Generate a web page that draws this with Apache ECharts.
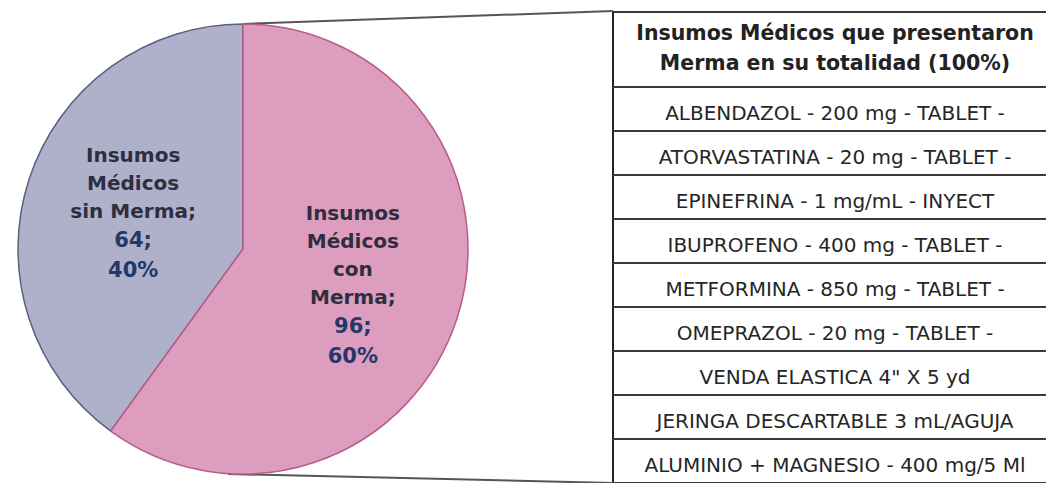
<!DOCTYPE html>
<html>
<head>
<meta charset="utf-8">
<script src="https://cdn.jsdelivr.net/npm/echarts@6/dist/echarts.min.js"></script>
<style>
  html, body { margin: 0; padding: 0; background: #fff; }
  #main { width: 1046px; height: 483px; }
</style>
</head>
<body>
<div id="main"></div>
<script>
const sliceNames = ['Insumos Médicos sin Merma', 'Insumos Médicos con Merma']
const sliceLabels = ['Insumos\nMédicos\nsin Merma;', 'Insumos\nMédicos\ncon\nMerma;']
const sliceValues = [64, 96]
const sliceColors = ['#afb1cb', '#dd9dbf']
const sliceBorders = ['#5e5e7e', '#b95c87']

const tableTitle = ['Insumos Médicos que presentaron', 'Merma en su totalidad (100%)']
const tableItems = [
  'ALBENDAZOL - 200 mg - TABLET -',
  'ATORVASTATINA - 20 mg - TABLET -',
  'EPINEFRINA - 1 mg/mL - INYECT',
  'IBUPROFENO - 400 mg - TABLET -',
  'METFORMINA - 850 mg - TABLET -',
  'OMEPRAZOL - 20 mg - TABLET -',
  'VENDA ELASTICA 4" X 5 yd',
  'JERINGA DESCARTABLE 3 mL/AGUJA',
  'ALUMINIO + MAGNESIO - 400 mg/5 Ml',
]

const FONT = '"DejaVu Sans", sans-serif'
const chart = echarts.init(document.getElementById('main'), null, { renderer: 'svg' })
const rowH = 44.5
const tableLeft = 613
const textX = 835

const option = {
  animation: false,
  grid: {
    left: tableLeft,
    top: 87,
    right: -20,
    height: rowH * tableItems.length,
  },
  xAxis: { type: 'value', min: 0, max: 1, show: false },
  yAxis: {
    type: 'category',
    inverse: true,
    data: tableItems,
    axisLine: { show: false },
    axisTick: { show: false },
    axisLabel: { show: false },
    splitLine: { show: true, lineStyle: { color: '#3a3a3a', width: 2 } },
  },
  series: [
    {
      type: 'pie',
      center: [243, 249],
      radius: 225,
      clockwise: false,
      startAngle: 90,
      silent: true,
      itemStyle: { borderWidth: 1.5 },
      labelLine: { show: false },
      label: {
        show: true,
        position: 'inner',
        formatter: (p) => `{n|${sliceLabels[p.dataIndex]}}\n{v|${p.value};}\n{v|${Math.round(p.percent)}%}`,
        rich: {
          n: { fontFamily: FONT, fontWeight: 'bold', fontSize: 20, lineHeight: 28, color: '#2e2e3e', align: 'center' },
          v: { fontFamily: FONT, fontWeight: 'bold', fontSize: 21, lineHeight: 30, color: '#24386a', align: 'center' },
        },
      },
      data: sliceNames.map((name, i) => ({
        name,
        value: sliceValues[i],
        itemStyle: { color: sliceColors[i], borderColor: sliceBorders[i] },
      })),
    },
    {
      type: 'custom',
      silent: true,
      encode: { x: 0, y: 1 },
      data: tableItems.map((t, i) => [0.5, i]),
      renderItem: (params, api) => {
        const pt = api.coord([0.5, api.value(1)])
        return {
          type: 'text',
          x: textX,
          y: pt[1] + 4,
          style: {
            text: tableItems[params.dataIndex],
            textAlign: 'center',
            textVerticalAlign: 'middle',
            font: `20px ${FONT}`,
            fill: '#262626',
          },
        }
      },
    },
  ],
  graphic: [
    // table header
    {
      type: 'text', x: textX, y: 33,
      style: { text: tableTitle[0], textAlign: 'center', textVerticalAlign: 'middle', font: `bold 20.5px ${FONT}`, fill: '#222' },
    },
    {
      type: 'text', x: textX, y: 63,
      style: { text: tableTitle[1], textAlign: 'center', textVerticalAlign: 'middle', font: `bold 20.5px ${FONT}`, fill: '#222' },
    },
    // table border
    { type: 'line', shape: { x1: tableLeft, y1: 12, x2: 1046, y2: 12 }, style: { stroke: '#3a3a3a', lineWidth: 2 } },
    { type: 'line', shape: { x1: tableLeft, y1: 11, x2: tableLeft, y2: 483 }, style: { stroke: '#222', lineWidth: 2 } },
    // zoom connector lines
    { type: 'line', shape: { x1: 243, y1: 24, x2: tableLeft, y2: 11 }, style: { stroke: '#555', lineWidth: 2 } },
    { type: 'line', shape: { x1: 228, y1: 474, x2: tableLeft, y2: 483 }, style: { stroke: '#555', lineWidth: 2 } },
  ],
}
chart.setOption(option)
</script>
</body>
</html>
